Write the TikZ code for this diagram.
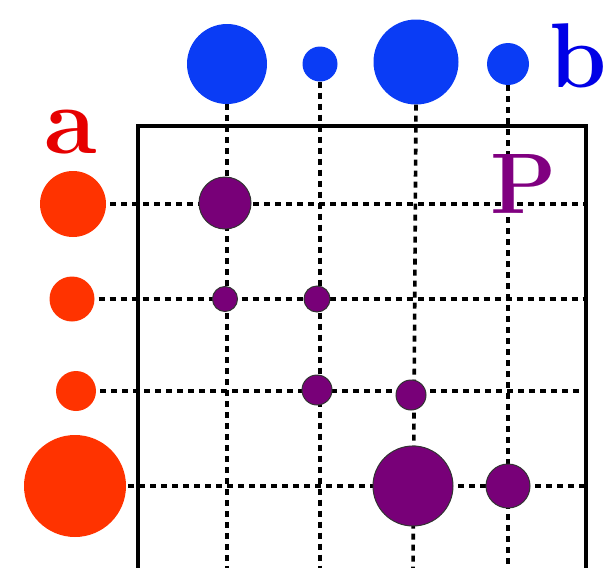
\documentclass[tikz,border=0pt]{standalone}
\usepackage{xcolor}
\usepackage{tikz}
\usetikzlibrary{positioning, calc}
\definecolor{DotBlue}{HTML}{0A3CF5}
\definecolor{DotRed}{HTML}{FF3300}
\definecolor{DotPurple}{HTML}{780078}
\definecolor{LetterBlue}{HTML}{0000E6}
\definecolor{LetterRed}{HTML}{E60000}
\definecolor{LetterPurple}{HTML}{800080}

\begin{document}
\begin{tikzpicture}[x=1pt, y=-1pt]
    \tikzstyle{bdot} = [circle, fill=DotBlue, inner sep=0pt]
    \tikzstyle{adot} = [circle, fill=DotRed, inner sep=0pt]
    \tikzstyle{pdot} = [circle, fill=DotPurple, draw=black!80, line width=1pt, inner sep=0pt]
    \tikzstyle{gridline} = [draw, black, line width=3.6pt, dash pattern=on 6pt off 5pt]
    \tikzstyle{letter} = [inner sep=0pt, anchor=base west]
    \useasboundingbox (0,0) rectangle (606,568);

    % frame
    \draw [line width=3.6pt] (586,571) -- (138,571) -- (138,126) -- (586,126) -- cycle;

    % top row (b)
    \node [bdot, minimum size=80pt] (b1) at (227,64) {};
    \node [bdot, minimum size=35pt] (b2) at (320,64) {};
    \node [bdot, minimum size=85pt] (b3) at (416,62) {};
    \node [bdot, minimum size=42pt] (b4) at (508,64) {};
    \node [letter, text=LetterBlue] (lb) at (549,87) {\fontseries{bx}\fontsize{92}{92}\selectfont b};

    % left column (a)
    \node [adot, minimum size=66pt] (a1) at (73,204) {};
    \node [adot, minimum size=45pt] (a2) at (72,299) {};
    \node [adot, minimum size=40pt] (a3) at (76,391) {};
    \node [adot, minimum size=102pt] (a4) at (75,486) {};
    \node [letter, text=LetterRed] (la) at (44,153) {\fontseries{bx}\fontsize{96}{96}\selectfont a};

    % ends of the dashed lines
    \coordinate (c1) at (227,571);
    \coordinate (c2) at (320,571);
    \coordinate (c3) at (413,571);
    \coordinate (c4) at (508,571);
    \coordinate (r1) at (586,204);
    \coordinate (r2) at (586,299);
    \coordinate (r3) at (586,391);
    \coordinate (r4) at (586,486);

    \path [gridline] (b1.south) -- (c1);
    \path [gridline] (b2.south) -- (c2);
    \path [gridline] (b3.south) -- (c3);
    \path [gridline] (b4.south) -- (c4);
    \path [gridline, shorten <=4pt] (a1.east) -- (r1);
    \path [gridline, shorten <=4pt] (a2.east) -- (r2);
    \path [gridline, shorten <=4pt] (a3.east) -- (r3);
    \path [gridline, shorten <=2pt] (a4.east) -- (r4);

    % product P
    \node [pdot, minimum size=52pt] (p11) at (225,203) {};
    \node [pdot, minimum size=25pt] (p21) at (225,299) {};
    \node [pdot, minimum size=26pt] (p22) at (317,299) {};
    \node [pdot, minimum size=30pt] (p32) at (317,390) {};
    \node [pdot, minimum size=30pt] (p33) at (411,395) {};
    \node [pdot, minimum size=80pt] (p43) at (413,486) {};
    \node [pdot, minimum size=44pt] (p44) at (508,486) {};
    \node [letter, text=LetterPurple] (lp) at (490,213) {\fontseries{bx}\fontsize{86}{86}\selectfont P};
\end{tikzpicture}
\end{document}
